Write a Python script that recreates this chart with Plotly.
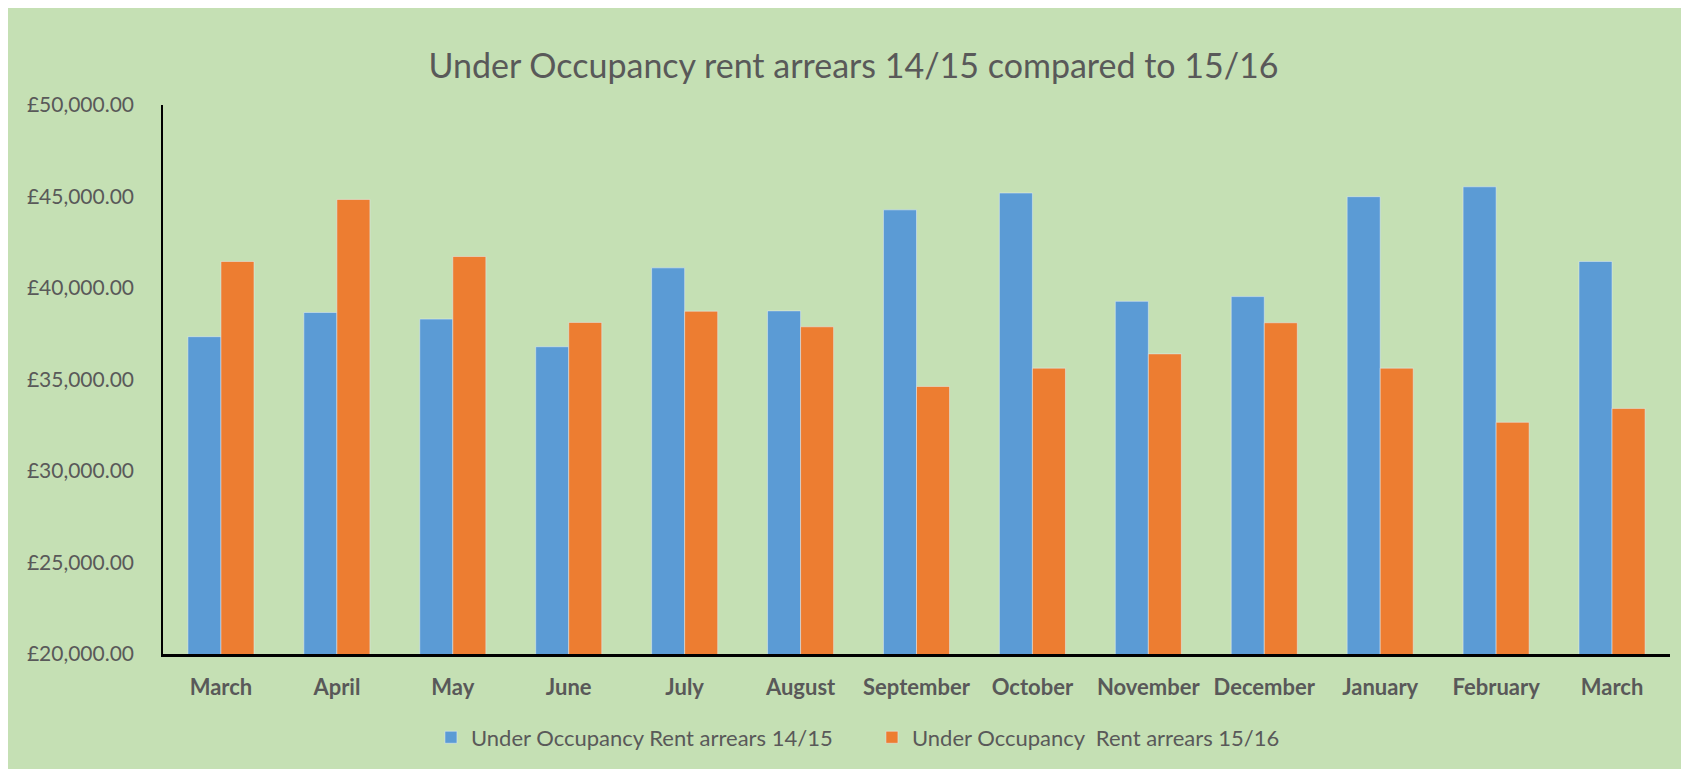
"""Under Occupancy rent arrears bar chart."""

import plotly.graph_objects as go

MONTHS = [
    "March", "April", "May", "June", "July", "August", "September",
    "October", "November", "December", "January", "February", "March",
]
ARREARS_1415 = [
    37340, 38660, 38300, 36790, 41100, 38750, 44270,
    45190, 39270, 39530, 44990, 45530, 41450,
]
ARREARS_1516 = [
    41450, 44840, 41720, 38120, 38730, 37880, 34620,
    35620, 36400, 38100, 35620, 32660, 33420,
]
NAMES = ["Under Occupancy Rent arrears 14/15", "Under Occupancy  Rent arrears 15/16"]

GREY = "#595959"
FONT = "Lato"

positions = list(range(len(MONTHS)))

fig = go.Figure()
fig.add_bar(x=positions, y=ARREARS_1415, name=NAMES[0], marker_color="#5B9BD5")
fig.add_bar(x=positions, y=ARREARS_1516, name=NAMES[1], marker_color="#ED7D31")

fig.update_layout(
    width=1673,
    height=761,
    paper_bgcolor="#C5E0B4",
    plot_bgcolor="#C5E0B4",
    margin=dict(l=155, r=11, t=97, b=111),
    barmode="group",
    bargap=0.43,
    bargroupgap=0,
    font=dict(family=FONT, color=GREY),
    title=dict(
        text="Under Occupancy rent arrears 14/15 compared to 15/16",
        x=0.5054, xref="container", xanchor="center",
        y=0.924, yref="container", yanchor="middle",
        font=dict(size=34, color=GREY, family=FONT),
    ),
    legend=dict(
        orientation="h",
        x=0.1778, xanchor="left",
        y=-0.152, yanchor="middle",
        font=dict(size=22, color=GREY),
        bgcolor="rgba(0,0,0,0)",
        entrywidth=396, entrywidthmode="pixels",
    ),
    showlegend=True,
)
fig.update_xaxes(
    range=[-0.5, len(MONTHS) - 0.5],
    tickvals=positions,
    ticktext=[f"<b>{m}</b>" for m in MONTHS],
    tickfont=dict(size=22, color=GREY),
    showline=True, linecolor="black", linewidth=2.5,
    showgrid=False, zeroline=False, ticks="",
    ticklabelstandoff=12,
)
fig.update_yaxes(
    range=[20000, 50000],
    dtick=5000,
    tickprefix="£",
    tickformat=",.2f",
    tickfont=dict(size=21, color=GREY),
    showline=True, linecolor="black", linewidth=1.5,
    showgrid=False, zeroline=False, ticks="",
    ticklabelstandoff=23,
)

fig.write_html("out.html")
